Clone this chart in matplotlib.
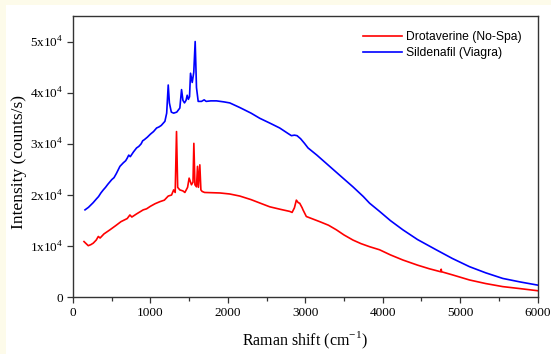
import matplotlib
matplotlib.use('Agg')
import matplotlib.pyplot as plt
from matplotlib.patches import Rectangle
from matplotlib.ticker import MultipleLocator, FixedLocator, FixedFormatter

# Raman spectra (shift in cm^-1, intensity in counts/s)
blue_shift = [155, 200, 260, 300, 330, 360, 391, 420, 450, 500, 530, 560, 606, 650,
              680, 700, 720, 740, 780, 821, 850, 880, 900, 920, 960, 1000, 1040, 1080,
              1110, 1140, 1187, 1210, 1230, 1245, 1270, 1300, 1340, 1380, 1402, 1420,
              1440, 1460, 1475, 1490, 1505, 1518, 1540, 1560, 1578, 1595, 1617, 1660,
              1694, 1720, 1780, 1853, 1950, 2025, 2154, 2300, 2412, 2550, 2670, 2780,
              2821, 2860, 2894, 2940, 2990, 3036, 3150, 3315, 3450, 3616, 3750, 3831,
              3960, 4100, 4261, 4450, 4691, 4900, 5121, 5330, 5551, 5780, 6000]
blue_int = [17100, 17600, 18500, 19200, 19700, 20400, 21000, 21500, 22100, 23000,
            23400, 24200, 25600, 26300, 26700, 27200, 27800, 27500, 28400, 29200,
            29500, 30000, 30600, 30800, 31300, 31900, 32400, 33100, 33300, 33600,
            34400, 36000, 41500, 38000, 36200, 36000, 36200, 37000, 40600, 38500,
            38000, 38500, 39500, 38700, 39200, 43800, 42000, 44000, 50000, 41000,
            38300, 38300, 38600, 38300, 38400, 38400, 38200, 38000, 37100, 36000,
            35000, 34000, 33100, 32000, 31600, 31700, 31600, 31000, 30100, 29200,
            27800, 25600, 23800, 21600, 19700, 18400, 16800, 15000, 13200, 11300,
            9300, 7600, 6000, 4800, 3700, 3000, 2400]

red_shift = [142, 197, 230, 262, 300, 327, 350, 400, 477, 550, 620, 700, 735, 760,
             820, 907, 950, 1000, 1060, 1122, 1180, 1230, 1273, 1300, 1320, 1337,
             1352, 1380, 1420, 1445, 1480, 1500, 1530, 1550, 1561, 1575, 1595, 1608,
             1620, 1638, 1652, 1668, 1700, 1900, 2025, 2154, 2300, 2420, 2541, 2680,
             2799, 2830, 2860, 2885, 2910, 2928, 2960, 2971, 3014, 3100, 3186, 3300,
             3402, 3500, 3616, 3720, 3831, 3960, 4100, 4261, 4450, 4600, 4750, 4756,
             4762, 4900, 5121, 5330, 5551, 5780, 6000]
red_int = [10900, 10100, 10300, 10600, 11200, 11900, 11600, 12400, 13200, 14000,
           14800, 15400, 16100, 15700, 16300, 17100, 17300, 17800, 18300, 18700,
           19000, 19800, 20000, 21000, 20500, 32400, 21500, 21000, 20800, 20500,
           21500, 23300, 22000, 22500, 30100, 22000, 21600, 25600, 21500, 25900,
           21000, 20700, 20500, 20400, 20200, 19800, 19100, 18400, 17700, 17200,
           16800, 16600, 17500, 19000, 18500, 18400, 17500, 17100, 15800, 15300,
           14800, 14100, 13200, 12200, 11200, 10500, 9900, 9300, 8300, 7300, 6300,
           5600, 5000, 5500, 5000, 4400, 3400, 2700, 2100, 1700, 1300]

y_ticks = [0, 10000, 20000, 30000, 40000, 50000]
y_labels = ['0', r'1x10$^{4}$', r'2x10$^{4}$', r'3x10$^{4}$', r'4x10$^{4}$', r'5x10$^{4}$']


def main():
    plt.rcParams['font.family'] = ['Liberation Serif', 'DejaVu Serif']
    plt.rcParams['mathtext.fontset'] = 'custom'
    plt.rcParams['mathtext.rm'] = 'Liberation Serif'

    fig = plt.figure(figsize=(5.51, 3.54), dpi=100, facecolor='#fdfbea')
    # white panel behind the plot
    fig.patches.append(Rectangle((6 / 551, 0), 1, 1 - 5 / 354, transform=fig.transFigure,
                                 facecolor='white', edgecolor='none', zorder=-1))

    ax = fig.add_axes([0.1325, 0.160, 0.843, 0.795])
    ax.set_facecolor('white')

    ax.plot(red_shift, red_int, color='#ff0000', lw=1.2, label='Drotaverine (No-Spa)')
    ax.plot(blue_shift, blue_int, color='#0000ff', lw=1.2, label='Sildenafil (Viagra)')

    ax.set_xlim(0, 6000)
    ax.set_ylim(0, 55000)
    ax.xaxis.set_major_locator(MultipleLocator(1000))
    ax.xaxis.set_minor_locator(MultipleLocator(500))
    ax.yaxis.set_major_locator(FixedLocator(y_ticks))
    ax.yaxis.set_major_formatter(FixedFormatter(y_labels))

    ax.tick_params(which='major', direction='out', length=4, width=0.9,
                   labelsize=9.5, color='#333333', pad=3)
    ax.tick_params(which='minor', direction='out', length=3, width=0.9, color='#333333')
    for s in ax.spines.values():
        s.set_color('#333333')
        s.set_linewidth(1.0)

    ax.set_xlabel('Raman shift (cm$^{-1}$)', fontsize=11.5, labelpad=8)
    ax.set_ylabel('Intensity (counts/s)', fontsize=12.5)
    ax.yaxis.set_label_coords(-0.098, 0.48)

    ax.legend(loc='upper right', bbox_to_anchor=(0.99, 0.985), frameon=False,
              prop={'family': 'Liberation Sans', 'size': 8.7},
              handlelength=3.2, handletextpad=0.4, labelspacing=0.35)

    fig.savefig('out.png', dpi=100, facecolor=fig.get_facecolor())


if __name__ == '__main__':
    main()
